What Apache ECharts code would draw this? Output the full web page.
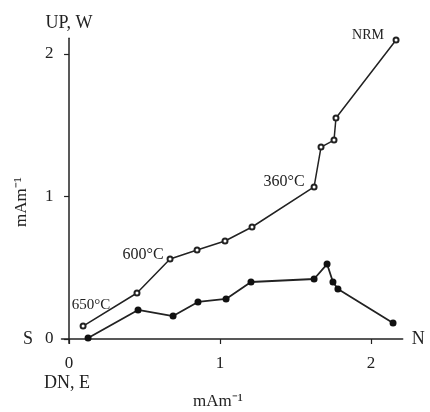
<!DOCTYPE html>
<html><head><meta charset="utf-8">
<script src="https://cdn.jsdelivr.net/npm/echarts@6/dist/echarts.min.js"></script>
<style>html,body{margin:0;padding:0;background:#fff}#c{width:430px;height:412px}</style>
</head><body><div id="c"></div>
<script>
// Upper curve (open circles): vertical projection
const upX = [0.093, 0.45, 0.669, 0.848, 1.033, 1.212, 1.623, 1.669, 1.755, 1.768, 2.166];
const upY = [0.091, 0.323, 0.561, 0.625, 0.688, 0.786, 1.067, 1.347, 1.396, 1.551, 2.098];
// Lower curve (filled dots): horizontal projection
const dnX = [0.126, 0.457, 0.689, 0.854, 1.04, 1.205, 1.623, 1.709, 1.748, 1.781, 2.146];
const dnY = [0.007, 0.204, 0.161, 0.26, 0.281, 0.4, 0.421, 0.526, 0.4, 0.351, 0.112];
// Step labels on the upper curve (index -> text)
const stepLabels = {0: '650°C', 2: '600°C', 6: '360°C', 10: 'NRM'};
const tickValues = [0, 1, 2];

const FONT = 'Liberation Serif';
const INK = '#222';
const labelOffsets = {0: [8, -21], 2: [-27, -4], 6: [-30, -5], 10: [-28, -5]};
const labelSizes = {0: 15, 2: 16, 6: 16, 10: 14};

const upData = upX.map((x, i) => {
  const d = {value: [x, upY[i]]};
  if (stepLabels[i] !== undefined) {
    d.label = {show: true, formatter: stepLabels[i], position: 'inside',
      offset: labelOffsets[i], color: INK, fontFamily: FONT, fontSize: labelSizes[i]};
  }
  return d;
});
const dnData = dnX.map((x, i) => [x, dnY[i]]);

const chart = echarts.init(document.getElementById('c'), null, {renderer: 'canvas'});
chart.setOption({
  animation: false,
  backgroundColor: '#fff',
  grid: {left: 61.5, top: 38.3, width: 341.2, height: 305},
  xAxis: {
    type: 'value', min: -0.05, max: 2.21,
    name: 'N', nameLocation: 'end', nameGap: 9,
    nameTextStyle: {fontFamily: FONT, fontSize: 18, color: INK},
    axisLine: {onZero: true, lineStyle: {color: INK, width: 1.5}},
    axisTick: {show: true, customValues: tickValues, length: 5, lineStyle: {color: INK, width: 1.2}},
    axisLabel: {customValues: tickValues, margin: 12, fontFamily: FONT, fontSize: 17, color: INK},
    splitLine: {show: false}
  },
  yAxis: {
    type: 'value', min: -0.03, max: 2.11,
    name: 'UP, W', nameLocation: 'end', nameGap: 6,
    nameTextStyle: {fontFamily: FONT, fontSize: 18, color: INK, align: 'center'},
    axisLine: {onZero: true, lineStyle: {color: INK, width: 1.5}},
    axisTick: {show: true, customValues: tickValues, length: 5, lineStyle: {color: INK, width: 1.2}},
    axisLabel: {customValues: tickValues, margin: 8, fontFamily: FONT, fontSize: 17, color: INK},
    splitLine: {show: false}
  },
  graphic: [
    {type: 'text', x: 28, y: 339, style: {text: 'S', font: '18px "Liberation Serif"', fill: INK, align: 'center', verticalAlign: 'middle'}},
    {type: 'text', x: 67, y: 383, style: {text: 'DN, E', font: '18px "Liberation Serif"', fill: INK, align: 'center', verticalAlign: 'middle'}},
    {type: 'text', x: 218, y: 402, style: {text: 'mAm⁻¹', font: '17px "Liberation Serif"', fill: INK, align: 'center', verticalAlign: 'middle'}},
    {type: 'text', x: 22, y: 202, rotation: Math.PI / 2, style: {text: 'mAm⁻¹', font: '17px "Liberation Serif"', fill: INK, align: 'center', verticalAlign: 'middle'}}
  ],
  series: [
    {type: 'line', data: upData, symbol: 'emptyCircle', symbolSize: 5,
      lineStyle: {color: INK, width: 1.5}, itemStyle: {color: INK, borderWidth: 1}},
    {type: 'line', data: dnData, symbol: 'circle', symbolSize: 7,
      lineStyle: {color: INK, width: 1.8}, itemStyle: {color: '#111'}}
  ]
});
</script></body></html>
